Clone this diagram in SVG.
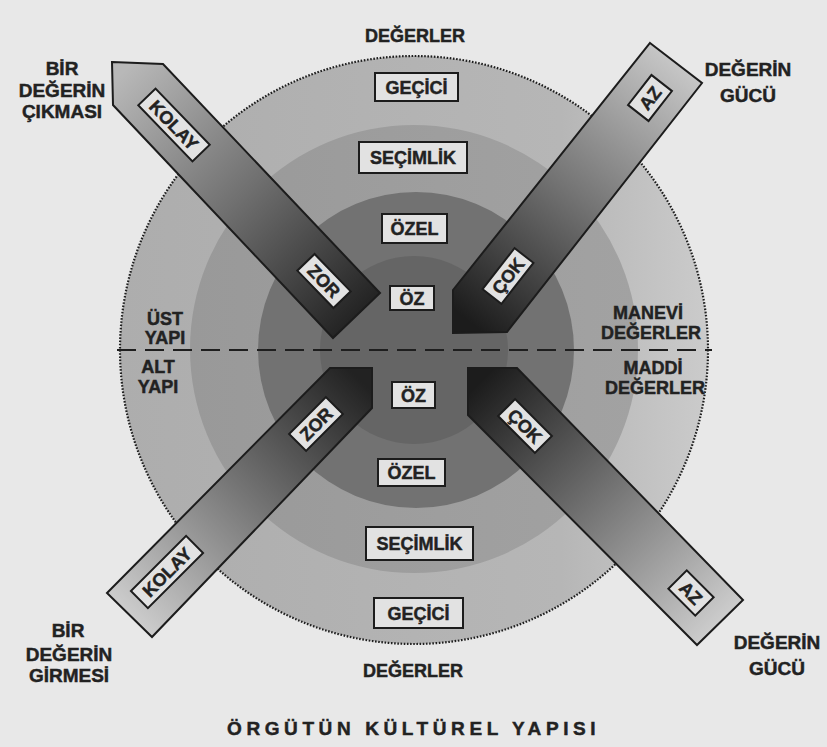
<svg xmlns="http://www.w3.org/2000/svg" width="827" height="747" viewBox="0 0 827 747">
  <defs>
    <style>
      .lbl { font-family: "Liberation Sans", Arial, Helvetica, sans-serif; font-weight: bold; fill: #222; stroke: #222; stroke-width: 0.45; text-anchor: middle; }
      .box { fill: #e2e2e2; stroke: #1c1c1c; stroke-width: 2; }
      .band { stroke: #1c1c1c; stroke-width: 2; stroke-linejoin: miter; }
    </style>
    <linearGradient id="gTL" gradientUnits="userSpaceOnUse" x1="120" y1="75" x2="360" y2="318">
      <stop offset="0" stop-color="#b8b8b8"/>
      <stop offset="0.5" stop-color="#707070"/>
      <stop offset="1" stop-color="#222"/>
    </linearGradient>
    <linearGradient id="gTR" gradientUnits="userSpaceOnUse" x1="676" y1="63" x2="470" y2="322">
      <stop offset="0" stop-color="#c6c6c6"/>
      <stop offset="0.5" stop-color="#747474"/>
      <stop offset="1" stop-color="#1c1c1c"/>
    </linearGradient>
    <linearGradient id="gBL" gradientUnits="userSpaceOnUse" x1="130" y1="615" x2="360" y2="380">
      <stop offset="0" stop-color="#cccccc"/>
      <stop offset="0.5" stop-color="#767676"/>
      <stop offset="1" stop-color="#222"/>
    </linearGradient>
    <linearGradient id="gBR" gradientUnits="userSpaceOnUse" x1="720" y1="622" x2="480" y2="382">
      <stop offset="0" stop-color="#cccccc"/>
      <stop offset="0.5" stop-color="#747474"/>
      <stop offset="1" stop-color="#1c1c1c"/>
    </linearGradient>
    <linearGradient id="gOuter" x1="0" y1="0" x2="1" y2="0">
      <stop offset="0" stop-color="#adadad"/>
      <stop offset="0.75" stop-color="#b6b6b6"/>
      <stop offset="1" stop-color="#cbcbcb"/>
    </linearGradient>
    <linearGradient id="gRing2" x1="0" y1="0" x2="1" y2="0">
      <stop offset="0" stop-color="#999"/>
      <stop offset="1" stop-color="#a2a2a2"/>
    </linearGradient>
  </defs>

  <!-- page -->
  <rect width="827" height="747" fill="#e8e8e8"/>

  <!-- concentric value layers -->
  <g id="rings">
    <circle cx="414" cy="350" r="294" fill="url(#gOuter)" stroke="#1e1e1e" stroke-width="2.2" stroke-dasharray="1.6 1.6"/>
    <circle cx="414" cy="349" r="224" fill="url(#gRing2)"/>
    <circle cx="416" cy="350" r="158" fill="#727272"/>
    <circle cx="414" cy="350" r="94" fill="#656565"/>
  </g>

  <!-- superstructure / substructure divider -->
  <line id="divider" x1="117" y1="350" x2="712" y2="350" stroke="#1e1e1e" stroke-width="2" stroke-dasharray="19 9"/>

  <!-- arrows -->
  <g id="connectors">
    <polygon id="arrow-exit" class="band" fill="url(#gTL)" points="112,62 163,64 380,293 333,338 113,105"/>
    <polygon id="arrow-power-top" class="band" fill="url(#gTR)" points="650,43 702,83 507,332 453,333 453,290"/>
    <polygon id="arrow-entry" class="band" fill="url(#gBL)" points="107,593 330,368 372,368 372,408 152,637"/>
    <polygon id="arrow-power-bottom" class="band" fill="url(#gBR)" points="468,368 517,368 743,600 697,645 468,415"/>
  </g>

  <!-- layer labels -->
  <g id="node-gecici-top"><rect class="box" x="375" y="73" width="83" height="28"/><text class="lbl" x="416.5" y="94" font-size="18">GEÇİCİ</text></g>
  <g id="node-secimlik-top"><rect class="box" x="359" y="142" width="108" height="31"/><text class="lbl" x="413" y="164" font-size="18">SEÇİMLİK</text></g>
  <g id="node-ozel-top"><rect class="box" x="382" y="214" width="65" height="29"/><text class="lbl" x="414.5" y="235" font-size="18">ÖZEL</text></g>
  <g id="node-oz-top"><rect class="box" x="390" y="286" width="44" height="24"/><text class="lbl" x="412" y="305" font-size="18">ÖZ</text></g>
  <g id="node-oz-bottom"><rect class="box" x="392" y="382" width="43" height="26"/><text class="lbl" x="413.5" y="402" font-size="18">ÖZ</text></g>
  <g id="node-ozel-bottom"><rect class="box" x="378" y="459" width="67" height="27"/><text class="lbl" x="411.5" y="479" font-size="18">ÖZEL</text></g>
  <g id="node-secimlik-bottom"><rect class="box" x="366" y="527" width="107" height="33"/><text class="lbl" x="419.5" y="550" font-size="18">SEÇİMLİK</text></g>
  <g id="node-gecici-bottom"><rect class="box" x="374" y="598" width="89" height="30"/><text class="lbl" x="418.5" y="620" font-size="18">GEÇİCİ</text></g>

  <!-- arrow labels -->
  <g id="tag-kolay-exit" transform="translate(174,125) rotate(46)"><rect class="box" x="-39" y="-12" width="78" height="24"/><text class="lbl" x="0" y="6.5" font-size="18">KOLAY</text></g>
  <g id="tag-zor-exit" transform="translate(324,281) rotate(46)"><rect class="box" x="-26" y="-12" width="52" height="24"/><text class="lbl" x="0" y="6.5" font-size="18">ZOR</text></g>
  <g id="tag-az-top" transform="translate(650,98) rotate(-52)"><rect class="box" x="-19" y="-13" width="38" height="26"/><text class="lbl" x="0" y="6.5" font-size="18">AZ</text></g>
  <g id="tag-cok-top" transform="translate(508,276) rotate(-52)"><rect class="box" x="-26" y="-12" width="52" height="24"/><text class="lbl" x="0" y="6.5" font-size="18">ÇOK</text></g>
  <g id="tag-zor-entry" transform="translate(316,424) rotate(-45)"><rect class="box" x="-26" y="-12" width="52" height="24"/><text class="lbl" x="0" y="6.5" font-size="18">ZOR</text></g>
  <g id="tag-kolay-entry" transform="translate(167,572) rotate(-45)"><rect class="box" x="-39" y="-12" width="78" height="24"/><text class="lbl" x="0" y="6.5" font-size="18">KOLAY</text></g>
  <g id="tag-cok-bottom" transform="translate(525,426) rotate(45)"><rect class="box" x="-26" y="-12" width="52" height="24"/><text class="lbl" x="0" y="6.5" font-size="18">ÇOK</text></g>
  <g id="tag-az-bottom" transform="translate(691,593) rotate(45)"><rect class="box" x="-19" y="-13" width="38" height="26"/><text class="lbl" x="0" y="6.5" font-size="18">AZ</text></g>

  <!-- outer captions -->
  <g id="cap-degerler-top"><text class="lbl" x="415" y="42" font-size="18">DEĞERLER</text></g>
  <g id="cap-degerler-bottom"><text class="lbl" x="413" y="677" font-size="18">DEĞERLER</text></g>
  <g id="cap-cikmasi">
    <text class="lbl" x="62" y="75" font-size="19">BİR</text>
    <text class="lbl" x="62" y="97" font-size="19">DEĞERİN</text>
    <text class="lbl" x="62" y="118" font-size="19">ÇIKMASI</text>
  </g>
  <g id="cap-guc-top">
    <text class="lbl" x="748" y="76" font-size="19">DEĞERİN</text>
    <text class="lbl" x="748" y="102" font-size="19">GÜCÜ</text>
  </g>
  <g id="cap-girmesi">
    <text class="lbl" x="68" y="637" font-size="19">BİR</text>
    <text class="lbl" x="69" y="661" font-size="19">DEĞERİN</text>
    <text class="lbl" x="69" y="682" font-size="19">GİRMESİ</text>
  </g>
  <g id="cap-guc-bottom">
    <text class="lbl" x="777" y="649" font-size="19">DEĞERİN</text>
    <text class="lbl" x="777" y="675" font-size="19">GÜCÜ</text>
  </g>
  <g id="cap-ust">
    <text class="lbl" x="165" y="325" font-size="18">ÜST</text>
    <text class="lbl" x="165" y="344" font-size="18">YAPI</text>
  </g>
  <g id="cap-alt">
    <text class="lbl" x="158" y="373" font-size="18">ALT</text>
    <text class="lbl" x="158" y="393" font-size="18">YAPI</text>
  </g>
  <g id="cap-manevi">
    <text class="lbl" x="648" y="319" font-size="18">MANEVİ</text>
    <text class="lbl" x="651" y="339" font-size="18">DEĞERLER</text>
  </g>
  <g id="cap-maddi">
    <text class="lbl" x="653" y="374" font-size="18">MADDİ</text>
    <text class="lbl" x="655" y="394" font-size="18">DEĞERLER</text>
  </g>

  <!-- title -->
  <text id="title" x="227" y="735" font-family="'Liberation Sans', Arial, sans-serif" font-weight="bold" font-size="19" letter-spacing="4.6" fill="#222" stroke="#222" stroke-width="0.45">ÖRGÜTÜN KÜLTÜREL YAPISI</text>
</svg>
